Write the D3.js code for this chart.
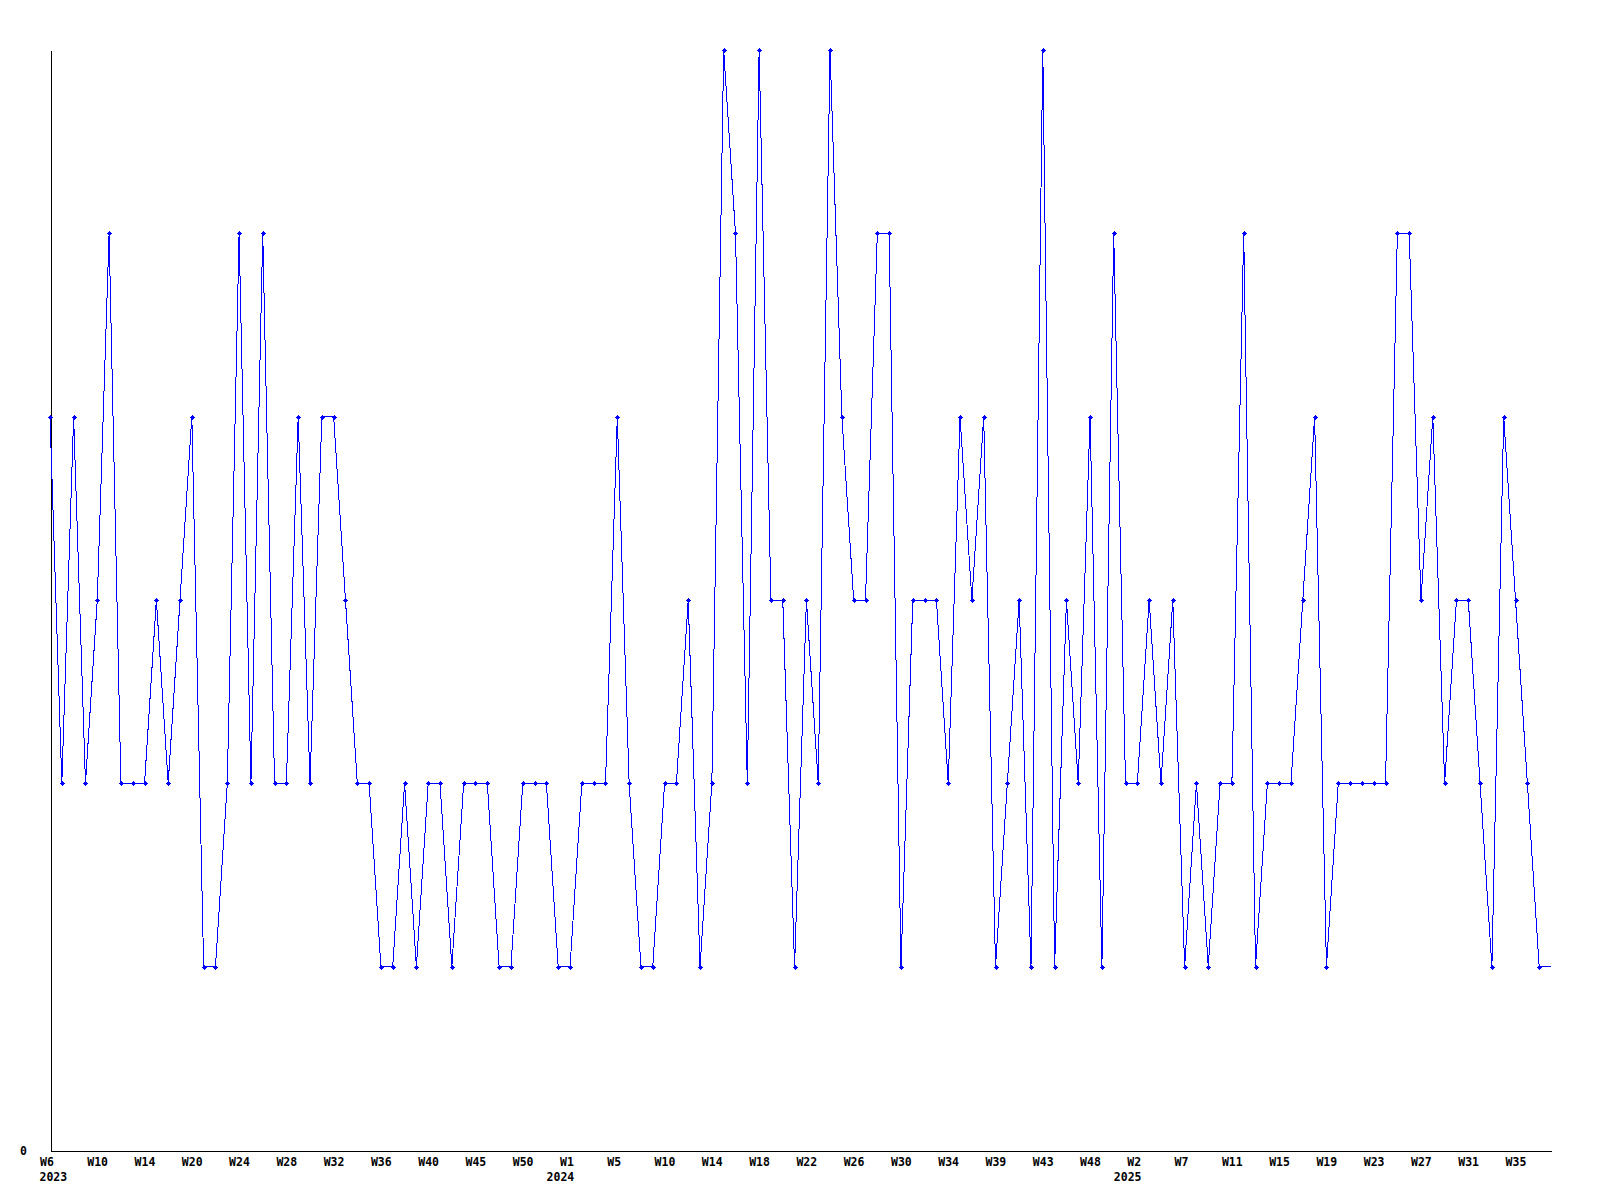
<!DOCTYPE html>
<html>
<head>
<meta charset="utf-8">
<script src="https://cdn.jsdelivr.net/npm/d3@7"></script>
<style>
  html, body { margin: 0; padding: 0; background: #fff; }
  svg text { font-family: "DejaVu Sans Mono", monospace; font-weight: bold; font-size: 11.5px; fill: #000; }
</style>
</head>
<body>
<div id="chart"></div>
<script>
// one value per data point (weekly, some weeks missing)
const values = [
  4, 2, 4, 2, 3, 5, 2, 2, 2, 3,
  2, 3, 4, 1, 1, 2, 5, 2, 5, 2,
  2, 4, 2, 4, 4, 3, 2, 2, 1, 1,
  2, 1, 2, 2, 1, 2, 2, 2, 1, 1,
  2, 2, 2, 1, 1, 2, 2, 2, 4, 2,
  1, 1, 2, 2, 3, 1, 2, 6, 5, 2,
  6, 3, 3, 1, 3, 2, 6, 4, 3, 3,
  5, 5, 1, 3, 3, 3, 2, 4, 3, 4,
  1, 2, 3, 1, 6, 1, 3, 2, 4, 1,
  5, 2, 2, 3, 2, 3, 1, 2, 1, 2,
  2, 5, 1, 2, 2, 2, 3, 4, 1, 2,
  2, 2, 2, 2, 5, 5, 3, 4, 2, 3,
  3, 2, 1, 4, 3, 2, 1, 1
];

// a label on every 4th point
const tickEvery = 4;
const tickLabels = [
  "W6", "W10", "W14", "W20", "W24", "W28", "W32", "W36", "W40", "W45", "W50",
  "W1", "W5", "W10", "W14", "W18", "W22", "W26", "W30", "W34", "W39", "W43", "W48",
  "W2", "W7", "W11", "W15", "W19", "W23", "W27", "W31", "W35"
];
const yearIndex = [0, 44, 92];
const yearLabels = ["2023", "2024", "2025"];

const yMax = 6;

const width = 1600, height = 1200;
const plot = { left: 50, right: 1551, top: 50, bottom: 1150 };

const svg = d3.select("#chart")
  .append("svg")
  .attr("width", width)
  .attr("height", height);

const x = d3.scaleLinear()
  .domain([0, values.length - 1])
  .range([plot.left, plot.right]);

const y = d3.scaleLinear()
  .domain([0, yMax])
  .range([plot.bottom, plot.top]);

// bottom axis
const xAxis = d3.axisBottom(x)
  .tickValues(d3.range(0, values.length, tickEvery))
  .tickFormat((d, i) => tickLabels[i])
  .tickSize(0)
  .tickPadding(0);

const gx = svg.append("g")
  .attr("transform", `translate(0,${plot.bottom + 0.5})`)
  .call(xAxis);
gx.attr("font-family", null).attr("font-size", null);
gx.select(".domain").attr("stroke", "#000").attr("shape-rendering", "crispEdges");
gx.selectAll("text")
  .attr("text-anchor", "start")
  .attr("x", -10.5)
  .attr("dy", null)
  .attr("y", 15.5);

// year labels under the week labels
svg.append("g")
  .selectAll("text")
  .data(yearIndex)
  .join("text")
  .attr("x", d => Math.max(x(d) - 23.5, plot.left - 10.5))
  .attr("y", plot.bottom + 30.5)
  .text((d, i) => yearLabels[i]);

// left axis
const yAxis = d3.axisLeft(y)
  .tickValues([0])
  .tickFormat(d3.format("d"))
  .tickSize(0)
  .tickPadding(0);

const gy = svg.append("g")
  .attr("transform", `translate(${plot.left + 0.5},0)`)
  .call(yAxis);
gy.attr("font-family", null).attr("font-size", null);
gy.select(".domain").attr("stroke", "#000").attr("shape-rendering", "crispEdges");
gy.selectAll("text")
  .attr("text-anchor", "end")
  .attr("x", -23.5)
  .attr("dy", "0.35em");

// series
const line = d3.line()
  .x((d, i) => x(i))
  .y(d => y(d));

svg.append("path")
  .datum(values)
  .attr("fill", "none")
  .attr("stroke", "#0000ff")
  .attr("stroke-width", 1)
  .attr("shape-rendering", "crispEdges")
  .attr("d", line);

// small cross markers (none on the very last point)
svg.append("g")
  .attr("fill", "#0000ff")
  .attr("shape-rendering", "crispEdges")
  .selectAll("path")
  .data(values.slice(0, -1))
  .join("path")
  .attr("transform", (d, i) => `translate(${Math.round(x(i)) + 0.5},${Math.round(y(d)) + 0.5})`)
  .attr("d", "M-2.5,-0.5h5v1h-5z M-0.5,-2.5h1v5h-1z M-1.5,-1.5h3v3h-3z");
</script>
</body>
</html>
